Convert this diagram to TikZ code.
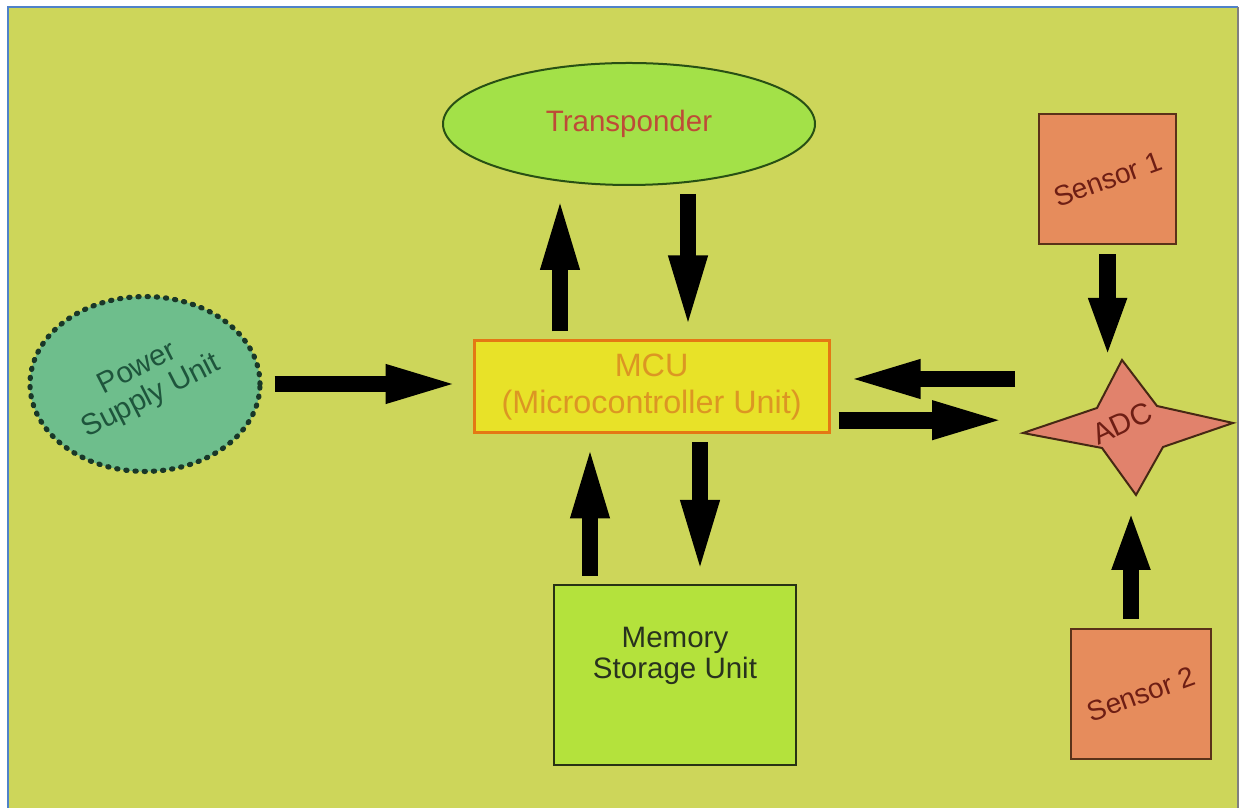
\documentclass[tikz,border=0pt]{standalone}
\usepackage{xcolor}
\usepackage{fontspec}
\setmainfont{Liberation Sans}
\usetikzlibrary{shapes.geometric, arrows.meta}
\definecolor{bgyellow}{RGB}{205,214,90}
\definecolor{frameblue}{RGB}{80,130,200}
\definecolor{transpfill}{RGB}{163,225,72}
\definecolor{transptext}{RGB}{190,75,55}
\definecolor{psufill}{RGB}{110,190,140}
\definecolor{psutext}{RGB}{30,85,60}
\definecolor{mcufill}{RGB}{232,226,40}
\definecolor{mculine}{RGB}{228,120,20}
\definecolor{mcutext}{RGB}{220,150,35}
\definecolor{memfill}{RGB}{180,226,60}
\definecolor{sensorfill}{RGB}{230,140,92}
\definecolor{sensortext}{RGB}{110,30,20}
\definecolor{adcfill}{RGB}{225,130,108}
\tikzstyle{transp} = [ellipse, minimum width=9.3cm, minimum height=3.05cm, inner sep=0pt, draw={rgb,255:red,40;green,80;blue,20}, line width=0.05cm, fill=transpfill, text=transptext, font=\fontsize{21}{24}\selectfont]
\tikzstyle{psu} = [ellipse, minimum width=5.75cm, minimum height=3.83cm, inner sep=0pt, draw={rgb,255:red,25;green,55;blue,40}, line width=0.13cm, dash pattern=on 0.03cm off 0.2cm, line cap=round, fill=psufill, text=psutext, align=center, font=\fontsize{21}{22}\selectfont]
\tikzstyle{mcu} = [rectangle, minimum width=8.875cm, minimum height=2.3cm, draw=mculine, line width=0.075cm, fill=mcufill, text=mcutext, align=center, font=\fontsize{23}{26}\selectfont]
\tikzstyle{memory} = [rectangle, minimum width=6.05cm, minimum height=4.5cm, draw={rgb,255:red,40;green,50;blue,20}, line width=0.05cm, fill=memfill]
\tikzstyle{memorytext} = [align=center, yshift=0.475cm, text={rgb,255:red,40;green,50;blue,30}, font=\fontsize{21}{22}\selectfont]
\tikzstyle{sensor} = [rectangle, minimum height=3.25cm, inner sep=0pt, draw={rgb,255:red,90;green,50;blue,25}, line width=0.06cm, fill=sensorfill, text=sensortext, font=\fontsize{20}{22}\selectfont]
\tikzstyle{adcshape} = [draw={rgb,255:red,70;green,40;blue,20}, line width=0.05cm, fill=adcfill]
\tikzstyle{arrow} = [line width=0.42cm, -{Triangle[length=1.9cm,width=0.85cm]}, shorten <=0.2cm, shorten >=0.2cm]

\begin{document}
\begin{tikzpicture}
\useasboundingbox (0,0) rectangle (31.025,20.3);
% backdrop
\fill[bgyellow] (0.2,0.1) rectangle (30.95,20.125);
\draw[frameblue, line width=0.05cm] (0.2,0.1) -- (0.2,20.125) -- (30.95,20.125);
\draw[gray, line width=0.04cm] (30.95,20.125) -- (30.95,0.1);

\node (mcu) [mcu] at (16.29,10.625) {MCU\\(Microcontroller Unit)};
\node (transp) [transp] at (15.725,17.2) {Transponder};
\node (psu) [psu] at (3.625,10.7) {\rotatebox{27}{\begin{tabular}{@{}c@{}}Power\\Supply Unit\end{tabular}}};
\node (memory) [memory, label={[memorytext]center:Memory\\Storage Unit}] at (16.875,3.425) {};
\node (sensor1) [sensor, minimum width=3.425cm] at (27.69,15.825) {\rotatebox{20}{Sensor 1}};
\node (sensor2) [sensor, minimum width=3.5cm] at (28.525,2.95) {\rotatebox{20}{Sensor 2}};

% ADC star
\coordinate (adc_n) at (28.05,11.3);
\coordinate (adc_e) at (30.825,9.725);
\coordinate (adc_s) at (28.4,7.925);
\coordinate (adc_w) at (25.575,9.475);
\draw[adcshape] (adc_n) -- (28.925,10.15) -- (adc_e) -- (29.075,9.125) -- (adc_s) -- (27.55,9.1) -- (adc_w) -- (27.425,10.1) -- cycle;
\node (adc) [text=sensortext, font=\fontsize{21}{22}\selectfont] at (28.05,9.725) {\rotatebox{25}{ADC}};

\draw[arrow, shorten <=0.3cm, shorten >=0.275cm] (psu.east) -- (psu.east -| mcu.west);
\draw[arrow] ([xshift=-2.29cm]mcu.north) -- ([xshift=-2.29cm]mcu.north |- transp.south);
\draw[arrow] ([xshift=0.91cm]mcu.north |- transp.south) -- ([xshift=0.91cm]mcu.north);
\draw[arrow] ([xshift=-1.54cm]mcu.south |- memory.north) -- ([xshift=-1.54cm]mcu.south);
\draw[arrow] ([xshift=1.21cm]mcu.south) -- ([xshift=1.21cm]mcu.south |- memory.north);
\draw[arrow, shorten >=0.35cm] ([yshift=0.2cm]mcu.east -| adc_w) -- ([yshift=0.2cm]mcu.east);
\draw[arrow, shorten >=0.375cm] ([yshift=-0.83cm]mcu.east) -- ([yshift=-0.83cm]mcu.east -| adc_w);
\draw[arrow, shorten <=0.225cm, shorten >=0.05cm, -{Triangle[length=1.5cm,width=0.85cm]}] (sensor1.south) -- (sensor1.south |- adc_n);
\draw[arrow, shorten <=0.225cm, shorten >=0.375cm, -{Triangle[length=1.5cm,width=0.85cm]}] ([xshift=-0.25cm]sensor2.north) -- ([xshift=-0.25cm]sensor2.north |- adc_s);
\end{tikzpicture}
\end{document}
